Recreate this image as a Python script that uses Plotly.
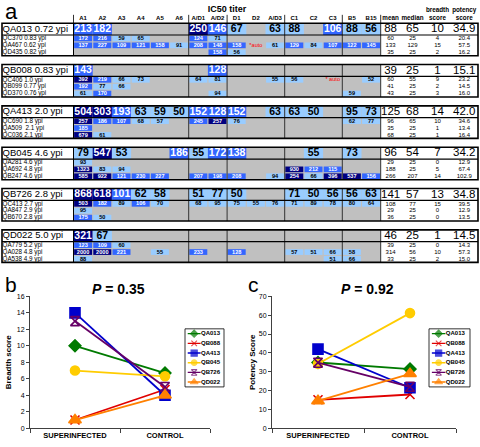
import plotly.graph_objects as go

# ---------------- data: IC50 titer table ----------------
columns = ["A1", "A2", "A3", "A4", "A5", "A6", "A/D1", "A/D2", "D1", "D2",
           "A/D3", "C1", "C2", "C3", "B5", "B15"]
stat_headers = ["mean", "median", "breadth<br>score", "potency<br>score"]

superinfected = ["QA013 0.72 ypi", "QB008 0.83 ypi", "QA413 2.0 ypi",
                 "QB045 4.6 ypi", "QB726 2.8 ypi", "QD022 5.0 ypi"]
controls = [
    ["QC370 0.83 ypi", "QA467 0.62 ypi", "QD435 0.82 ypi"],
    ["QC406 1.0 ypi", "QB099 0.77 ypi", "QD370 0.76 ypi"],
    ["QC690 1.8 ypi", "QA509  2.1 ypi", "QC036 2.1 ypi"],
    ["QA281 4.6 ypi", "QA692 4.8 ypi", "QB247 4.6 ypi"],
    ["QC413 2.7 ypi", "QA847 2.9 ypi", "QB670 2.8 ypi"],
    ["QA779 5.2 ypi", "QA028 4.8 ypi", "QA538 4.9 ypi"],
]
N = None
superinfected_titers = [
    [213, 182, N, N, N, N, 250, 146, 67, N, 63, 88, N, 106, 88, 56],
    [143, N, N, N, N, N, N, 128, N, N, N, N, N, N, N, N],
    [504, 303, 193, 63, 59, 50, 152, 128, 152, N, 63, 63, 50, N, 95, 73],
    [79, 547, 53, N, N, 186, 55, 172, 138, N, N, N, 55, N, 73, N],
    [868, 618, 101, 62, 58, N, 51, 77, 50, N, N, 71, 50, 56, 56, 63],
    [321, 67, N, N, N, N, N, N, N, N, N, N, N, N, N, N],
]
control_titers = [
    [[172, 216, 59, 65, N, N, 124, 71, N, N, N, N, N, N, N, N],
     [137, 227, 109, 121, 158, 91, 208, 148, 158, "*auto", 61, 129, 84, 107, 122, 145],
     [N, N, N, N, N, N, N, 158, 56, N, N, N, N, N, N, N]],
    [[392, 219, 66, 73, N, N, 64, 81, N, N, 55, 56, N, "* auto", N, 52],
     [192, 77, 66, N, N, N, N, N, N, N, N, N, N, N, N, N],
     [61, 170, N, N, N, N, N, 94, N, N, N, N, N, N, 59, N]],
    [[257, 186, 107, 68, 57, N, 245, 257, 76, N, N, N, N, N, 62, 77],
     [185, N, N, N, N, N, N, N, N, N, N, N, N, N, N, N],
     [679, 61, N, N, N, N, N, N, N, N, N, N, N, N, N, N]],
    [[93, N, N, N, N, N, N, N, N, N, N, N, N, N, N, N],
     [1323, 83, 94, N, N, N, N, N, N, N, N, 930, 212, 115, N, N],
     [585, 922, 121, 230, 227, N, 207, 198, 208, N, 94, 254, 66, 396, 537, 156]],
    [[503, 182, 89, 106, 70, N, 68, 95, 75, 55, 76, 71, 89, 78, 80, 64],
     [95, N, N, N, N, N, N, N, N, N, N, N, N, N, N, N],
     [175, 50, N, N, N, N, N, N, N, N, N, N, N, N, N, N]],
    [[123, 109, 60, N, N, N, N, N, N, N, N, N, N, N, N, N],
     [2000, 2000, 221, N, 55, N, 233, N, 128, N, N, 57, 51, 66, 58, N],
     [88, N, N, N, N, N, N, N, N, N, N, N, N, 51, 66, N]],
]
superinfected_stats = [[88, 65, 10, 34.9], [39, 25, 1, 15.1], [125, 68, 14, 42.0],
                       [96, 54, 7, 34.2], [141, 57, 13, 34.8], [46, 25, 1, 14.5]]
control_stats = [
    [[60, 25, 4, 20.4], [133, 129, 15, 57.5], [35, 25, 2, 16.2]],
    [[60, 55, 9, 23.2], [41, 25, 2, 14.5], [43, 25, 3, 16.0]],
    [[96, 65, 10, 34.6], [35, 25, 1, 13.4], [68, 25, 1, 16.4]],
    [[29, 25, 0, 12.9], [188, 25, 5, 67.4], [266, 207, 14, 102.9]],
    [[108, 77, 15, 39.5], [29, 25, 0, 12.9], [36, 25, 0, 13.5]],
    [[39, 25, 0, 14.3], [314, 56, 10, 57.3], [33, 25, 2, 15.0]],
]

# ---------------- data: score panels ----------------
groups = ["SUPERINFECTED", "CONTROL"]
series = ["QA013", "QB088", "QA413", "QB045", "QB726", "QD022"]
breadth_super = [10, 1, 14, 7, 13, 1]
breadth_control = [6.7, 4.7, 4.0, 6.3, 5.0, 4.0]
potency_super = [34.9, 15.1, 42.0, 34.2, 34.8, 14.5]
potency_control = [31.4, 17.9, 21.5, 61.1, 22.0, 28.9]

# ---------------- styles / layout ----------------
W, H = 480, 447
SANS = "Liberation Sans, Arial, sans-serif"
GRAY, LIGHT, BLUE, NAVY = "#c0c0c0", "#99ccff", "#3366ff", "#000080"

series_colors = ["#007a00", "#e00000", "#0000cc", "#ffcc00", "#660066", "#ff8000"]
series_symbols = ["diamond", "x-thin-open", "square", "circle", "hourglass-open", "triangle-up"]
series_sizes = [9, 9, 10, 9, 9, 11]

X_LEFT, X_LABEL, COL_W = 2.0, 73.5, 19.2
X_DATA = X_LABEL + COL_W * len(columns)
STAT_EDGES = [X_DATA, 400.5, 424.5, 450.5, 478.0]
GROUP_STARTS = [6, 8, 11, 14, 16]
TOP0, PITCH, MAIN_H, SUB_H = 19.5, 42.0, 12.0, 7.0
HEAD_Y, TITLE_Y = 15.0, 5.5


def cell_color(v):
    if not isinstance(v, (int, float)):
        return None
    if v >= 250:
        return NAVY
    if v >= 100:
        return BLUE
    if v >= 50:
        return LIGHT
    return None


def col_left(j):
    return X_LABEL + COL_W * j


shapes = []
texts = {}


def add_text(key, x, y, s, size, color, pos="middle center"):
    d = texts.setdefault((key, pos), dict(x=[], y=[], text=[], size=[], color=[]))
    d["x"].append(x); d["y"].append(y); d["text"].append(s)
    d["size"].append(size); d["color"].append(color)


def rect(x0, y0, x1, y1, fill, layer="below", line_color=None, lw=0, xref="x3", yref="y3"):
    shapes.append(dict(type="rect", xref=xref, yref=yref, x0=x0, y0=y0, x1=x1, y1=y1,
                       fillcolor=fill, layer=layer,
                       line=dict(color=line_color or "rgba(0,0,0,0)", width=lw)))


def hline(x0, x1, y, color="black", w=1.0):
    shapes.append(dict(type="line", xref="x3", yref="y3", x0=x0, x1=x1, y0=y, y1=y,
                       line=dict(color=color, width=w), layer="above"))


def vline(x, y0, y1, color="#333333", w=1.0):
    shapes.append(dict(type="line", xref="x3", yref="y3", x0=x, x1=x, y0=y0, y1=y1,
                       line=dict(color=color, width=w), layer="above"))


# header
add_text("h", (col_left(6) + col_left(10)) / 2, TITLE_Y, "<b>IC50 titer</b>", 9, "black")
for j, c in enumerate(columns):
    add_text("h", col_left(j) + COL_W / 2, HEAD_Y, "<b>%s</b>" % c, 6, "black")
for k, s in enumerate(stat_headers):
    cx = (STAT_EDGES[k] + STAT_EDGES[k + 1]) / 2
    yy = HEAD_Y if "<br>" not in s else (TITLE_Y + HEAD_Y) / 2 + 0.5
    add_text("h", cx, yy, "<b>%s</b>" % s, 6.3, "black")
for g in [0] + GROUP_STARTS:
    vline(col_left(g), 11.0, TOP0, color="#333333", w=1)

for b in range(len(superinfected)):
    top = TOP0 + PITCH * b
    bottom = top + MAIN_H + 3 * SUB_H
    rect(X_LEFT, top, STAT_EDGES[-1], bottom, "white")
    rect(X_LABEL, top, X_DATA, bottom, GRAY)
    rows = [(superinfected[b], superinfected_titers[b], superinfected_stats[b], top, top + MAIN_H, True)]
    for i in range(3):
        y0 = top + MAIN_H + SUB_H * i
        rows.append((controls[b][i], control_titers[b][i], control_stats[b][i], y0, y0 + SUB_H, False))
    for label, vals, stats, y0, y1, main in rows:
        yc = (y0 + y1) / 2
        inset = 0.0 if main else 0.6
        add_text("lab", X_LEFT + 0.5, yc + (0.3 if main else 0.2), label, 9.5 if main else 6.3,
                 "black", "middle right")
        for j, v in enumerate(vals):
            if v is None:
                continue
            c = cell_color(v)
            cx = col_left(j) + COL_W / 2
            if c:
                rect(col_left(j) + inset, y0 + inset, col_left(j + 1) - inset, y1 - inset, c)
                tc = "black" if c == LIGHT else "white"
                add_text("num", cx, yc + (0.4 if main else 0.2), "<b>%s</b>" % v,
                         10.5 if main else 5.6, tc)
            else:
                add_text("num", cx, yc, str(v), 5.6, "#ff0000")
        for k, s in enumerate(stats):
            cx = (STAT_EDGES[k] + STAT_EDGES[k + 1]) / 2
            st = ("%.1f" % s) if k == 3 else str(s)
            add_text("st", cx, yc + (0.5 if main else 0.2), st, 11.5 if main else 6, "black")
    # grid lines
    for g in GROUP_STARTS:
        vline(col_left(g), top, bottom, color="#333333", w=1)
    vline(X_LABEL, top, bottom, color="black", w=1)
    hline(X_LEFT, STAT_EDGES[-1], top + MAIN_H, "black", 1.2)
    rect(X_LEFT, top, STAT_EDGES[-1], bottom, "rgba(0,0,0,0)", layer="above",
         line_color="black", lw=1.6)

fig = go.Figure()

# ---------------- score panels ----------------
panel_data = [("x", "y", breadth_super, breadth_control),
              ("x2", "y2", potency_super, potency_control)]
for xa, ya, sup, ctl in panel_data:
    for i, name in enumerate(series):
        fig.add_trace(go.Scatter(
            x=groups, y=[sup[i], ctl[i]], mode="lines+markers", name=name,
            xaxis=xa, yaxis=ya, showlegend=False, hoverinfo="skip",
            line=dict(color=series_colors[i], width=1.8),
            marker=dict(symbol=series_symbols[i], size=series_sizes[i], color=series_colors[i],
                        line=dict(color=series_colors[i], width=1.6))))

# custom legends (one per panel) drawn on their own small axes
for xa, ya in [("x4", "y4"), ("x5", "y5")]:
    for i, name in enumerate(series):
        fig.add_trace(go.Scatter(
            x=[0.07, 0.235, 0.40], y=[i + 0.5] * 3, mode="lines+markers",
            xaxis=xa, yaxis=ya, showlegend=False, hoverinfo="skip",
            line=dict(color=series_colors[i], width=1.4),
            marker=dict(symbol=series_symbols[i], size=[0, series_sizes[i] * 0.62, 0],
                        color=series_colors[i], line=dict(color=series_colors[i], width=1.1))))
    fig.add_trace(go.Scatter(
        x=[0.41] * len(series), y=[i + 0.5 for i in range(len(series))], mode="text",
        text=["<b>%s</b>" % s for s in series], textposition="middle right",
        textfont=dict(family=SANS, size=6, color="black"),
        xaxis=xa, yaxis=ya, showlegend=False, hoverinfo="skip"))
    rect(0, 0, 1, 1, "white", layer="below", line_color="black", lw=0.8,
         xref=xa + " domain", yref=ya + " domain")

# table text traces
for (key, pos), d in texts.items():
    fig.add_trace(go.Scatter(
        x=d["x"], y=d["y"], text=d["text"], mode="text", textposition=pos,
        textfont=dict(family=SANS, size=d["size"], color=d["color"]),
        xaxis="x3", yaxis="y3", showlegend=False, hoverinfo="skip"))


def px_x(p):
    return p / W


def px_y(p):
    return 1 - p / H


Y_TOP, Y_BOT = 297.0, 431.0
axis_common = dict(showline=True, linecolor="#404040", linewidth=1, ticks="outside",
                   tickcolor="#404040", showgrid=False, zeroline=False, fixedrange=True)
cat_axis = dict(axis_common, type="category", range=[-0.5, 1.5], tickson="boundaries",
                ticklen=4, tickfont=dict(family=SANS, size=7.5, color="black"),
                tickprefix="<b>", ticksuffix="</b>")


def label_ann(text, x, y, size, **kw):
    return dict(text=text, x=px_x(x), y=px_y(y), xref="paper", yref="paper",
                showarrow=False, yanchor="middle", font=dict(family=SANS, size=size, color="black"), **kw)


fig.update_layout(
    width=W, height=H, margin=dict(l=0, r=0, t=0, b=0),
    paper_bgcolor="white", plot_bgcolor="rgba(0,0,0,0)",
    showlegend=False, shapes=shapes,
    xaxis=dict(cat_axis, domain=[px_x(30), px_x(210)], anchor="y"),
    yaxis=dict(axis_common, domain=[px_y(Y_BOT), px_y(Y_TOP)], range=[0, 16], dtick=2,
               ticklen=3, tickfont=dict(family=SANS, size=7, color="black"), anchor="x",
               title=dict(text="<b>Breadth score</b>", standoff=3,
                          font=dict(family=SANS, size=8, color="black"))),
    xaxis2=dict(cat_axis, domain=[px_x(272), px_x(456)], anchor="y2"),
    yaxis2=dict(axis_common, domain=[px_y(Y_BOT), px_y(Y_TOP)], range=[0, 70], dtick=10,
                ticklen=3, tickfont=dict(family=SANS, size=7, color="black"), anchor="x2",
                title=dict(text="<b>Potency Score</b>", standoff=1,
                           font=dict(family=SANS, size=8, color="black"))),
    xaxis3=dict(domain=[0, 1], range=[0, W], visible=False, fixedrange=True, anchor="y3"),
    yaxis3=dict(domain=[0, 1], range=[H, 0], visible=False, fixedrange=True, anchor="x3"),
    xaxis4=dict(domain=[px_x(185), px_x(224)], range=[0, 1], visible=False, fixedrange=True, anchor="y4"),
    yaxis4=dict(domain=[px_y(389), px_y(330)], range=[6, 0], visible=False, fixedrange=True, anchor="x4"),
    xaxis5=dict(domain=[px_x(429), px_x(470)], range=[0, 1], visible=False, fixedrange=True, anchor="y5"),
    yaxis5=dict(domain=[px_y(389), px_y(330)], range=[6, 0], visible=False, fixedrange=True, anchor="x5"),
    annotations=[
        label_ann("a", 3, 8, 22, xanchor="left"),
        label_ann("b", 3, 285, 21, xanchor="left"),
        label_ann("c", 246, 285, 21, xanchor="left"),
        label_ann("<b><i>P</i> = 0.35</b>", 118, 290, 14, xanchor="center"),
        label_ann("<b><i>P</i> = 0.92</b>", 367, 290, 14, xanchor="center"),
    ],
)

fig.write_html("out.html", config={"displayModeBar": False},
               post_script="document.body.style.margin='0';")
